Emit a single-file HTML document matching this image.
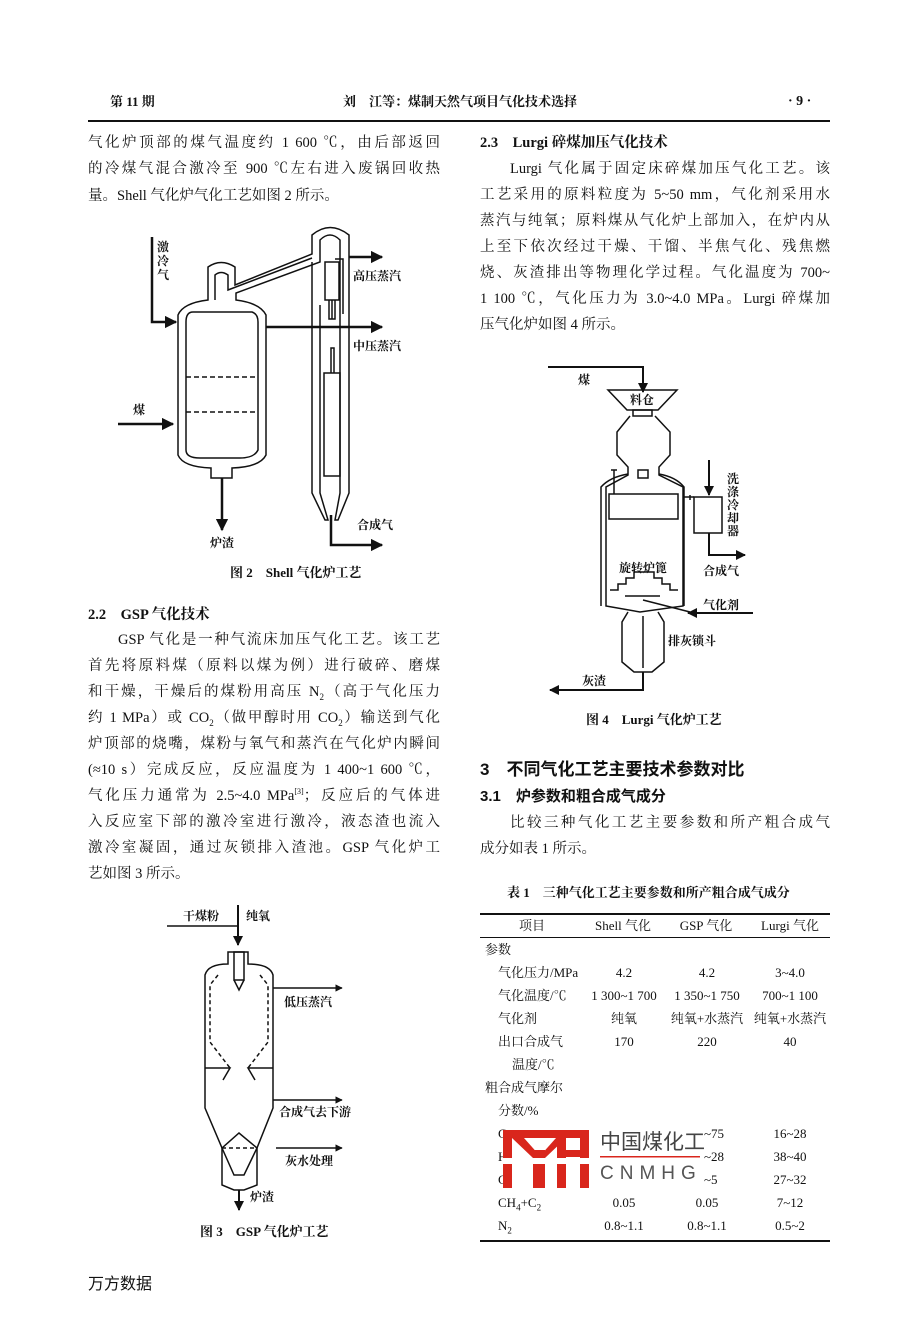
<!DOCTYPE html>
<html><head><meta charset="utf-8">
<style>
body{margin:0;background:#fff;}
#p{position:relative;width:904px;height:1320px;overflow:hidden;background:#fff;color:#111;font-family:"Liberation Serif","Noto Serif CJK SC","Noto Sans CJK SC",serif;font-size:14.5px;}
.l{position:absolute;height:26px;line-height:26px;white-space:nowrap;}
.jl{left:88px;width:352px;text-align:justify;text-align-last:justify;}
.jr{left:480px;width:350px;text-align:justify;text-align-last:justify;}
.b{font-weight:bold;}
.h{font-family:"Liberation Sans","Noto Sans CJK SC",sans-serif;font-weight:bold;}
.t{position:absolute;font-size:13px;white-space:nowrap;line-height:16px;}
.c{transform:translateX(-50%);}
svg{position:absolute;left:0;top:0;}
sub{font-size:9px;line-height:0;}
sup{font-size:8px;line-height:0;}
</style></head><body><div id="p">
<div class="l b" style="left:110px;top:89px;font-size:13px">第 11 期</div>
<div class="l b" style="left:343px;top:89px;font-size:13px">刘　江等：煤制天然气项目气化技术选择</div>
<div class="l b" style="left:788px;top:89px;font-size:14px">· 9 ·</div>
<div style="position:absolute;left:88px;top:120px;width:742px;height:2px;background:#111"></div>

<div class="l jl" style="top:130px">气化炉顶部的煤气温度约 1 600 ℃，由后部返回</div>
<div class="l jl" style="top:156px">的冷煤气混合激冷至 900 ℃左右进入废锅回收热</div>
<div class="l" style="left:88px;top:183px">量。Shell 气化炉气化工艺如图 2 所示。</div>

<div class="l b" style="left:230px;top:560px;font-size:13px">图 2　Shell 气化炉工艺</div>

<div class="l b" style="left:88px;top:602px">2.2　GSP 气化技术</div>
<div class="l" style="left:118px;width:322px;top:627px;text-align:justify;text-align-last:justify">GSP 气化是一种气流床加压气化工艺。该工艺</div>
<div class="l jl" style="top:653px">首先将原料煤（原料以煤为例）进行破碎、磨煤</div>
<div class="l jl" style="top:679px">和干燥，干燥后的煤粉用高压 N<sub>2</sub>（高于气化压力</div>
<div class="l jl" style="top:705px">约 1 MPa）或 CO<sub>2</sub>（做甲醇时用 CO<sub>2</sub>）输送到气化</div>
<div class="l jl" style="top:731px">炉顶部的烧嘴，煤粉与氧气和蒸汽在气化炉内瞬间</div>
<div class="l jl" style="top:757px">(≈10 s）完成反应，反应温度为 1 400~1 600 ℃，</div>
<div class="l jl" style="top:783px">气化压力通常为 2.5~4.0 MPa<sup>[3]</sup>；反应后的气体进</div>
<div class="l jl" style="top:809px">入反应室下部的激冷室进行激冷，液态渣也流入</div>
<div class="l jl" style="top:835px">激冷室凝固，通过灰锁排入渣池。GSP 气化炉工</div>
<div class="l" style="left:88px;top:861px">艺如图 3 所示。</div>

<div class="l b" style="left:200px;top:1219px;font-size:13px">图 3　GSP 气化炉工艺</div>
<div class="l" style="left:88px;top:1272px;font-family:'Liberation Sans','Noto Sans CJK SC',sans-serif;font-size:16px">万方数据</div>

<div class="l b" style="left:480px;top:130px">2.3　Lurgi 碎煤加压气化技术</div>
<div class="l" style="left:510px;width:320px;top:156px;text-align:justify;text-align-last:justify">Lurgi 气化属于固定床碎煤加压气化工艺。该</div>
<div class="l jr" style="top:182px">工艺采用的原料粒度为 5~50 mm，气化剂采用水</div>
<div class="l jr" style="top:208px">蒸汽与纯氧；原料煤从气化炉上部加入，在炉内从</div>
<div class="l jr" style="top:234px">上至下依次经过干燥、干馏、半焦气化、残焦燃</div>
<div class="l jr" style="top:260px">烧、灰渣排出等物理化学过程。气化温度为 700~</div>
<div class="l jr" style="top:286px">1 100 ℃，气化压力为 3.0~4.0 MPa。Lurgi 碎煤加</div>
<div class="l" style="left:480px;top:312px">压气化炉如图 4 所示。</div>

<div class="l b" style="left:586px;top:707px;font-size:13px">图 4　Lurgi 气化炉工艺</div>

<div class="l h" style="left:480px;top:757px;font-size:17px">3　不同气化工艺主要技术参数对比</div>
<div class="l h" style="left:480px;top:784px;font-size:15px">3.1　炉参数和粗合成气成分</div>
<div class="l" style="left:510px;width:320px;top:810px;text-align:justify;text-align-last:justify">比较三种气化工艺主要参数和所产粗合成气</div>
<div class="l" style="left:480px;top:836px">成分如表 1 所示。</div>

<div class="l b" style="left:507px;top:880px;font-size:13px">表 1　三种气化工艺主要参数和所产粗合成气成分</div>
<div style="position:absolute;left:480px;top:913px;width:350px;height:2px;background:#111"></div>
<div style="position:absolute;left:480px;top:937px;width:350px;height:1px;background:#111"></div>
<div style="position:absolute;left:480px;top:1240px;width:350px;height:2px;background:#111"></div>
<div class="t c" style="left:532px;top:918px">项目</div>
<div class="t c" style="left:623px;top:918px">Shell 气化</div>
<div class="t c" style="left:706px;top:918px">GSP 气化</div>
<div class="t c" style="left:790px;top:918px">Lurgi 气化</div>
<div class="t" style="left:485px;top:942px">参数</div>
<div class="t" style="left:498px;top:965px">气化压力/MPa</div>
<div class="t c" style="left:624px;top:965px">4.2</div><div class="t c" style="left:707px;top:965px">4.2</div><div class="t c" style="left:790px;top:965px">3~4.0</div>
<div class="t" style="left:498px;top:988px">气化温度/℃</div>
<div class="t c" style="left:624px;top:988px">1 300~1 700</div><div class="t c" style="left:707px;top:988px">1 350~1 750</div><div class="t c" style="left:790px;top:988px">700~1 100</div>
<div class="t" style="left:498px;top:1011px">气化剂</div>
<div class="t c" style="left:624px;top:1011px">纯氧</div><div class="t c" style="left:707px;top:1011px">纯氧+水蒸汽</div><div class="t c" style="left:790px;top:1011px">纯氧+水蒸汽</div>
<div class="t" style="left:498px;top:1034px">出口合成气</div>
<div class="t c" style="left:624px;top:1034px">170</div><div class="t c" style="left:707px;top:1034px">220</div><div class="t c" style="left:790px;top:1034px">40</div>
<div class="t" style="left:512px;top:1057px">温度/℃</div>
<div class="t" style="left:485px;top:1080px">粗合成气摩尔</div>
<div class="t" style="left:498px;top:1103px">分数/%</div>
<div class="t" style="left:498px;top:1126px">C</div><div class="t" style="left:704px;top:1126px">~75</div><div class="t c" style="left:790px;top:1126px">16~28</div>
<div class="t" style="left:498px;top:1149px">H</div><div class="t" style="left:704px;top:1149px">~28</div><div class="t c" style="left:790px;top:1149px">38~40</div>
<div class="t" style="left:498px;top:1172px">C</div><div class="t" style="left:704px;top:1172px">~5</div><div class="t c" style="left:790px;top:1172px">27~32</div>
<div class="t" style="left:498px;top:1195px">CH<sub>4</sub>+C<sub>2</sub></div>
<div class="t c" style="left:624px;top:1195px">0.05</div><div class="t c" style="left:707px;top:1195px">0.05</div><div class="t c" style="left:790px;top:1195px">7~12</div>
<div class="t" style="left:498px;top:1218px">N<sub>2</sub></div>
<div class="t c" style="left:624px;top:1218px">0.8~1.1</div><div class="t c" style="left:707px;top:1218px">0.8~1.1</div><div class="t c" style="left:790px;top:1218px">0.5~2</div>

<!-- watermark -->
<svg width="904" height="1320" viewBox="0 0 904 1320">
<g fill="#d9261c">
<rect x="503" y="1130" width="86" height="8"/>
<rect x="503" y="1130" width="9" height="58"/>
<polygon points="512,1138 524,1138 540,1156 533,1158"/>
<polygon points="556,1138 566,1138 545,1158 540,1156"/>
<rect x="533" y="1150" width="12" height="38"/>
<rect x="557" y="1130" width="9" height="58"/>
<rect x="580" y="1130" width="9" height="58"/>
<rect x="557" y="1150" width="32" height="7"/>
<rect x="503" y="1158" width="86" height="6" fill="#fff"/>
<rect x="600" y="1156" width="100" height="1.5"/>
</g>
</svg>
<div style="position:absolute;left:600px;top:1128px;font-family:'Noto Sans CJK SC',sans-serif;font-size:21px;color:#444;line-height:26px">中国煤化工</div>
<div style="position:absolute;left:600px;top:1162px;font-family:'Liberation Sans',sans-serif;font-size:19px;color:#555;letter-spacing:6px;line-height:24px">CNMHG</div>

<svg width="904" height="1320" viewBox="0 0 904 1320" fill="none" stroke="#111" stroke-width="1.5">
<defs><marker id="a" viewBox="0 0 10 10" refX="9" refY="5" markerWidth="5" markerHeight="5" orient="auto"><path d="M0,0L10,5L0,10z" fill="#111" stroke="none"/></marker></defs>
<!-- Shell -->
<path d="M208,267 Q221,258 235,267 L235,285 L312,254 L312,235 Q330,220 349,235 L349,493 L338,520 L335,520 L340,493 L340,240 Q330,230 320,240 L320,262 L236,293 L236,300 Q260,303 266,315 L266,455 Q260,467 232,468 L232,478 L211,478 L211,468 Q183,467 178,455 L178,315 Q183,303 208,300 Z"/>
<path d="M215,300 L215,275 Q221,270 228,275 L228,290 L312,258 M320,305 L320,493 L328,520 L325,520 L312,493 L312,262"/>
<path d="M193,312 L252,312 Q258,314 258,322 L258,450 Q254,458 240,458 L200,458 Q186,458 186,450 L186,322 Q186,312 193,312 Z"/>
<path d="M186,377 H258 M186,412 H258" stroke-dasharray="5,3"/>
<rect x="325" y="262" width="14" height="38"/><path d="M332,300 V319 M329,300 V319 h6 V300"/>
<path d="M335,259 h8 v55" />
<rect x="324" y="373" width="16" height="103"/><path d="M331,373 V348 h3 v25"/>
<g stroke-width="2.5">
<path d="M152,237 V322 H176" marker-end="url(#a)"/>
<path d="M118,424 H173" marker-end="url(#a)"/>
<path d="M222,478 V530" marker-end="url(#a)"/>
<path d="M349,257 H382" marker-end="url(#a)"/>
<path d="M266,327 H382" marker-end="url(#a)"/>
<path d="M331,515 V545 H382" marker-end="url(#a)"/>
</g>
<!-- GSP -->
<g stroke-width="1.5">
<path d="M167,926 H238"/>
<path d="M238,905 V945" stroke-width="2" marker-end="url(#a)"/>
<path d="M228,952 h20 v12 Q270,964 273,975 V1108 L257,1148 V1185 L244,1190 H234 L222,1185 V1148 L205,1108 V975 Q208,964 228,964 Z"/>
<rect x="234" y="952" width="10" height="28"/>
<path d="M234,980 L239,990 L244,980"/>
<path d="M218,975 L210,985 V1042 L230,1068 M260,975 L268,985 V1042 L248,1068 M222,1148 H257" stroke-dasharray="4,3"/>
<path d="M205,1068 H230 L223,1080 M273,1068 H248 L255,1080"/>
<path d="M222,1148 L239,1133 L257,1148 L244,1175 H234 Z"/>
<path d="M273,988 H342" marker-end="url(#a)"/>
<path d="M273,1100 H342" marker-end="url(#a)"/>
<path d="M276,1148 H342" marker-end="url(#a)"/>
<path d="M239,1190 V1210" stroke-width="2" marker-end="url(#a)"/>
</g>
<!-- Lurgi -->
<g stroke-width="1.5">
<path d="M548,367 H643 V392" stroke-width="2" marker-end="url(#a)"/>
<path d="M608,390 H677 L658,410 H627 Z"/>
<rect x="633" y="410" width="19" height="6"/>
<path d="M630,416 L617,432 V455 L628,467 V475 L606,487 V606 L640,612 L683,606 V487 L659,475 V467 L670,455 V432 L655,416"/>
<path d="M601,606 V487 Q610,477 628,474 M684,606 V487 Q676,477 659,474"/>
<rect x="609" y="494" width="69" height="25"/>
<path d="M614,470 V494 M611,470 h6"/>
<rect x="638" y="470" width="10" height="8"/>
<path d="M610,590 h8 v-6 h8 v-6 h8 v-6 h20 v6 h8 v6 h8 v6 h8 M625,596 h35 M643,600 L690,612"/>
<path d="M628,612 L622,622 V662 L634,672 H652 L664,662 V622 L658,612"/>
<path d="M643,616 V668"/>
<rect x="694" y="497" width="28" height="36"/>
<path d="M684,497 H694 M690,495 v5"/>
<path d="M709,460 V495" stroke-width="2" marker-end="url(#a)"/>
<path d="M709,533 V555 H745" stroke-width="2" marker-end="url(#a)"/>
<path d="M753,613 H688" stroke-width="2" marker-end="url(#a)"/>
<path d="M643,672 V690 H550" stroke-width="2" marker-end="url(#a)"/>
</g>
</svg>
<!-- diagram labels -->
<div class="t b" style="left:157px;top:240px;width:13px;line-height:14px;white-space:normal;font-size:12px">激冷气</div>
<div class="t b" style="left:133px;top:402px;font-size:12px">煤</div>
<div class="t b" style="left:210px;top:535px;font-size:12px">炉渣</div>
<div class="t b" style="left:353px;top:268px;font-size:12px">高压蒸汽</div>
<div class="t b" style="left:353px;top:338px;font-size:12px">中压蒸汽</div>
<div class="t b" style="left:357px;top:517px;font-size:12px">合成气</div>
<div class="t b" style="left:183px;top:908px;font-size:12px">干煤粉</div>
<div class="t b" style="left:246px;top:908px;font-size:12px">纯氧</div>
<div class="t b" style="left:284px;top:994px;font-size:12px">低压蒸汽</div>
<div class="t b" style="left:279px;top:1104px;font-size:12px">合成气去下游</div>
<div class="t b" style="left:285px;top:1153px;font-size:12px">灰水处理</div>
<div class="t b" style="left:250px;top:1189px;font-size:12px">炉渣</div>
<div class="t b" style="left:578px;top:372px;font-size:12px">煤</div>
<div class="t b" style="left:630px;top:392px;font-size:12px">料仓</div>
<div class="t b" style="left:727px;top:473px;width:13px;line-height:13px;white-space:normal;font-size:12px">洗涤冷却器</div>
<div class="t b" style="left:619px;top:560px;font-size:12px">旋转炉篦</div>
<div class="t b" style="left:703px;top:563px;font-size:12px">合成气</div>
<div class="t b" style="left:703px;top:597px;font-size:12px">气化剂</div>
<div class="t b" style="left:668px;top:633px;font-size:12px">排灰锁斗</div>
<div class="t b" style="left:582px;top:673px;font-size:12px">灰渣</div>
</div></body></html>
